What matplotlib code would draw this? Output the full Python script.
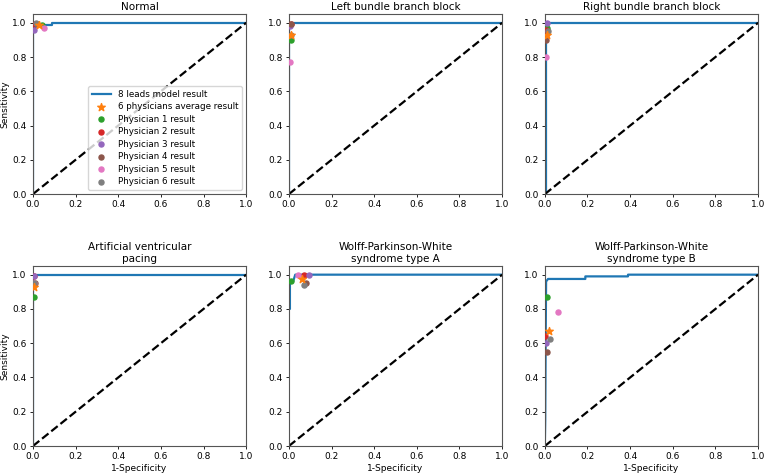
import numpy as np
import matplotlib
matplotlib.use('Agg')
import matplotlib.pyplot as plt

titles = ['Normal', 'Left bundle branch block', 'Right bundle branch block',
          'Artificial ventricular\npacing', 'Wolff-Parkinson-White\nsyndrome type A',
          'Wolff-Parkinson-White\nsyndrome type B']

# model ROC curves (fpr, tpr)
roc_fpr = [
    [0, 0, 0.004, 0.004, 0.01, 0.01, 0.02, 0.09, 0.09, 1.0],
    [0, 0, 0.003, 1.0],
    [0, 0.005, 0.005, 1.0],
    [0, 0, 0.003, 1.0],
    [0, 0, 0.005, 0.005, 0.02, 0.03, 1.0],
    [0, 0.002, 0.004, 0.006, 0.015, 0.19, 0.19, 0.39, 0.39, 1.0],
]
roc_tpr = [
    [0, 0.95, 0.95, 0.97, 0.97, 0.985, 0.985, 0.985, 1.0, 1.0],
    [0, 1.0, 1.0, 1.0],
    [0, 0, 1.0, 1.0],
    [0, 1.0, 1.0, 1.0],
    [0, 0.80, 0.80, 0.96, 0.96, 1.0, 1.0],
    [0, 0.15, 0.6, 0.96, 0.975, 0.975, 0.99, 0.99, 1.0, 1.0],
]

# physicians' average (star) per class
avg_fpr = [0.03, 0.01, 0.01, 0.005, 0.06, 0.018]
avg_tpr = [0.985, 0.93, 0.93, 0.93, 0.975, 0.67]

# physician 1..6 results per class
phys_fpr = [
    [0.045, 0.01, 0.01, 0.005, 0.01, 0.012],
    [0.01, 0.008, 0.005, 0.005, 0.07, 0.003],
    [0.005, 0.005, 0.012, 0.003, 0.095, 0.005],
    [0.02, 0.01, 0.005, 0.008, 0.08, 0.008],
    [0.05, 0.005, 0.004, 0.003, 0.045, 0.06],
    [0.015, 0.012, 0.015, 0.005, 0.07, 0.022],
]
phys_tpr = [
    [0.985, 0.90, 0.97, 0.87, 0.965, 0.87],
    [0.99, 0.99, 0.96, 0.99, 1.0, 0.64],
    [0.96, 0.98, 1.0, 0.99, 1.0, 0.60],
    [0.99, 0.99, 0.90, 0.95, 0.95, 0.55],
    [0.97, 0.77, 0.80, 0.95, 1.0, 0.78],
    [1.0, 0.93, 0.95, 0.95, 0.94, 0.625],
]
phys_colors = ['tab:green', 'tab:red', 'tab:purple', 'tab:brown', 'tab:pink', 'tab:gray']

fig, axes = plt.subplots(2, 3, figsize=(7.65, 4.73), dpi=100)
plt.subplots_adjust(left=0.043, right=0.991, top=0.970, bottom=0.057, wspace=0.2, hspace=0.4)

for i, ax in enumerate(axes.flat):
    ax.plot(roc_fpr[i], roc_tpr[i], color='tab:blue', lw=1.6, label='8 leads model result')
    ax.plot([0, 1], [0, 1], 'k--', lw=1.6)
    ax.scatter(avg_fpr[i], avg_tpr[i], marker='*', s=32, color='tab:orange', zorder=4,
               label='6 physicians average result')
    for p in range(6):
        ax.scatter(phys_fpr[p][i], phys_tpr[p][i], s=13, color=phys_colors[p], zorder=3,
                   label='Physician %d result' % (p + 1))
    ax.set_xlim(0, 1)
    ax.set_ylim(0, 1.05)
    ax.set_xticks(np.arange(0, 1.01, 0.2))
    ax.set_yticks(np.arange(0, 1.01, 0.2))
    ax.tick_params(labelsize=6.5, length=2.5, width=0.6, pad=2)
    for s in ax.spines.values():
        s.set_linewidth(0.8)
        s.set_color('#555555')
    ax.set_title(titles[i], fontsize=7.5, pad=3)
    if i % 3 == 0:
        ax.set_ylabel('Sensitivity', fontsize=6.5, labelpad=2)
    if i >= 3:
        ax.set_xlabel('1-Specificity', fontsize=6.5, labelpad=2)

axes[0, 0].legend(loc='lower right', fontsize=6.3, markerscale=1.0, handlelength=2.2,
                  borderpad=0.4, labelspacing=0.4)

plt.savefig('out.png', dpi=100)
